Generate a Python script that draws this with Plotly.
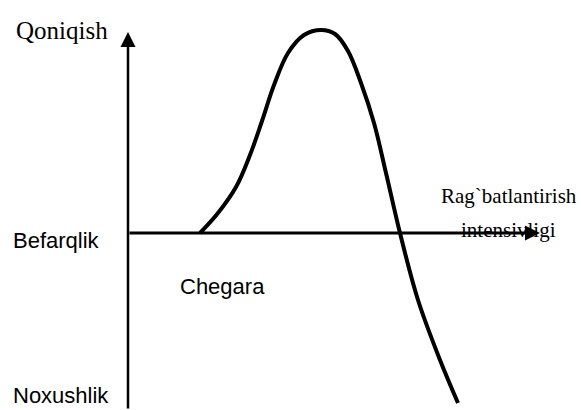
import plotly.graph_objects as go

# Curve: satisfaction vs stimulus intensity (origin at axes crossing)
curve_x = [72, 90, 108, 122, 134, 146, 160, 176, 193, 207, 220, 233, 246, 258, 272, 290, 312, 330]
curve_y = [0, 20, 46, 78, 112, 148, 180, 198, 203, 199, 182, 150, 110, 60, 0, -67, -127, -170]

# Axes extents
x_axis_start, x_axis_end = 0, 412
y_axis_start, y_axis_end = -177, 201

# Labels
label_texts = ["Qoniqish", "Befarqlik", "Noxushlik", "Chegara", "Rag`batlantirish", "intensivligi"]
label_x = [-66, -72, -67, 94, 381, 380]
label_y = [203, -7, -162, -53, 37, 3]

fig = go.Figure()

fig.add_trace(go.Scatter(
    x=curve_x, y=curve_y, mode="lines",
    line=dict(color="black", width=4, shape="spline", smoothing=1.0),
    hoverinfo="skip", showlegend=False,
))

# Axes with arrowheads
fig.add_annotation(x=0, y=y_axis_end, ax=0, ay=y_axis_start, xref="x", yref="y",
                   axref="x", ayref="y", showarrow=True, arrowhead=2, arrowsize=1.2,
                   arrowwidth=2.5, arrowcolor="black", text="")
fig.add_annotation(x=x_axis_end, y=0, ax=x_axis_start, ay=0, xref="x", yref="y",
                   axref="x", ayref="y", showarrow=True, arrowhead=2, arrowsize=1.0,
                   arrowwidth=3, arrowcolor="black", text="")

serif = "Liberation Serif, Times New Roman, serif"
sans = "Liberation Sans, Arial, sans-serif"
fonts = [dict(family=serif, size=25), dict(family=sans, size=22), dict(family=sans, size=22),
         dict(family=sans, size=22), dict(family=serif, size=21), dict(family=serif, size=21)]

for t, x, y, f in zip(label_texts, label_x, label_y, fonts):
    f = dict(f, color="black")
    fig.add_annotation(x=x, y=y, xref="x", yref="y", text=t, showarrow=False,
                       font=f, xanchor="center", yanchor="middle")

fig.update_xaxes(range=[-128, 453], visible=False, fixedrange=True)
fig.update_yaxes(range=[-177, 233], visible=False, fixedrange=True)
fig.update_layout(width=581, height=410, margin=dict(l=0, r=0, t=0, b=0),
                  paper_bgcolor="white", plot_bgcolor="white")

fig.write_html("out.html", config={"displayModeBar": False},
               post_script="document.body.style.margin='0';document.body.style.overflow='hidden';")
